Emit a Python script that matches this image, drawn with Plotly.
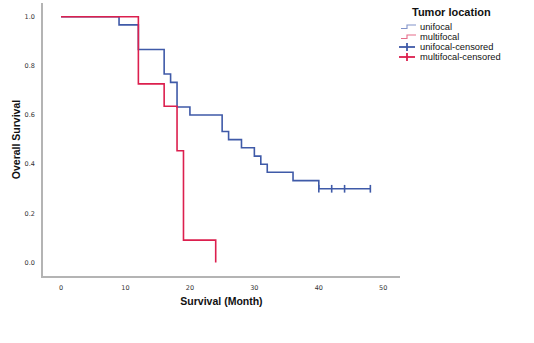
import plotly.graph_objects as go

# ---- data ----
uni_time = [0, 9, 12, 16, 17, 18, 20, 25, 26, 28, 30, 31, 32, 36, 40, 48]
uni_surv = [1.0, 0.967, 0.867, 0.767, 0.733, 0.633, 0.600, 0.533, 0.500,
            0.467, 0.433, 0.400, 0.367, 0.333, 0.300, 0.300]
multi_time = [0, 12, 16, 18, 19, 24]
multi_surv = [1.0, 0.727, 0.636, 0.455, 0.091, 0.0]
uni_cens_time = [40, 42, 44, 48]
uni_cens_surv = [0.300, 0.300, 0.300, 0.300]
multi_cens_time = []
multi_cens_surv = []

x_ticks = [0, 10, 20, 30, 40, 50]
y_ticks = [0.0, 0.2, 0.4, 0.6, 0.8, 1.0]
y_ticklabels = ["0.0", "0.2", "0.4", "0.6", "0.8", "1.0"]

legend_title = "Tumor location"
legend_labels = ["unifocal", "multifocal", "unifocal-censored", "multifocal-censored"]

BLUE = "#3f5aa8"
RED = "#dc1f4e"
BLUE_L = "#8193c9"
RED_L = "#e56d8a"

W, H = 534, 343
ML, MR, MT, MB = 43, 134, 3, 67
PW, PH = W - ML - MR, H - MT - MB


def px(x):
    return (x - ML) / PW


def py(y):
    return (H - MB - y) / PH


fig = go.Figure()
fig.add_trace(go.Scatter(x=uni_time, y=uni_surv, mode="lines", line_shape="hv",
                         line=dict(color=BLUE, width=1.6), showlegend=False, hoverinfo="skip"))
fig.add_trace(go.Scatter(x=multi_time, y=multi_surv, mode="lines", line_shape="hv",
                         line=dict(color=RED, width=1.6), showlegend=False, hoverinfo="skip"))
fig.add_trace(go.Scatter(x=uni_cens_time, y=uni_cens_surv, mode="markers",
                         marker=dict(symbol="line-ns-open", size=5.5, color=BLUE,
                                     line=dict(color=BLUE, width=1.6)),
                         showlegend=False, hoverinfo="skip"))
fig.add_trace(go.Scatter(x=multi_cens_time, y=multi_cens_surv, mode="markers",
                         marker=dict(symbol="line-ns-open", size=5.5, color=RED,
                                     line=dict(color=RED, width=1.6)),
                         showlegend=False, hoverinfo="skip"))

axis_common = dict(showgrid=False, zeroline=False, showline=True, linecolor="#b4b4b4",
                   linewidth=1.5, ticks="", tickfont=dict(family="DejaVu Sans", size=6.5, color="#333333"),
                   mirror=False)

fig.update_xaxes(range=[-2.8, 52.6], tickvals=x_ticks, ticklabelstandoff=4,
                 title=dict(text="<b>Survival (Month)</b>", standoff=7,
                            font=dict(family="Liberation Sans", size=10.5, color="#111")),
                 **axis_common)
fig.update_yaxes(range=[-0.055, 1.056], tickvals=y_ticks, ticktext=y_ticklabels,
                 ticklabelstandoff=5,
                 title=dict(text="<b>Overall Survival</b>", standoff=2,
                            font=dict(family="Liberation Sans", size=10.5, color="#111")),
                 **axis_common)

# ---- manual legend ----
shapes = []
annotations = []
annotations.append(dict(x=px(451), y=py(12.5), xref="paper", yref="paper",
                        text="<b>" + legend_title + "</b>", showarrow=False,
                        xanchor="center", yanchor="middle",
                        font=dict(family="Liberation Sans", size=11, color="#111")))
rows = [27, 37, 47, 57]
glyph_colors = [BLUE_L, RED_L, BLUE, RED]
for i, (lab, ry, col) in enumerate(zip(legend_labels, rows, glyph_colors)):
    annotations.append(dict(x=px(418), y=py(ry), xref="paper", yref="paper",
                            text=lab, showarrow=False, xanchor="left", yanchor="middle",
                            font=dict(family="Liberation Sans", size=9.3, color="#111")))
    if i < 2:
        path = (f"M {px(401)} {py(ry + 1.5)} L {px(407)} {py(ry + 1.5)} "
                f"L {px(407)} {py(ry - 2)} L {px(416)} {py(ry - 2)}")
        shapes.append(dict(type="path", path=path, xref="paper", yref="paper",
                           line=dict(color=col, width=1.1)))
    else:
        shapes.append(dict(type="line", x0=px(399), x1=px(415), y0=py(ry), y1=py(ry),
                           xref="paper", yref="paper", line=dict(color=col, width=1.8)))
        shapes.append(dict(type="line", x0=px(407), x1=px(407), y0=py(ry - 4), y1=py(ry + 4),
                           xref="paper", yref="paper", line=dict(color=col, width=1.8)))

fig.update_layout(template="none", width=W, height=H,
                  margin=dict(l=ML, r=MR, t=MT, b=MB, autoexpand=False),
                  paper_bgcolor="white", plot_bgcolor="white", showlegend=False,
                  shapes=shapes, annotations=annotations)

fig.write_html("out.html", config={"displayModeBar": False})
